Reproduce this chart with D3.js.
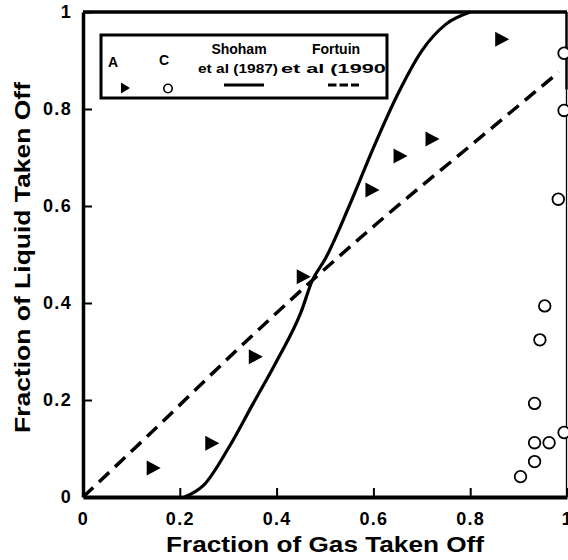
<!DOCTYPE html>
<html><head><meta charset="utf-8">
<script src="https://cdn.jsdelivr.net/npm/d3@7"></script>
<style>
html,body{margin:0;padding:0;background:#fff;}
svg{display:block;}
text{font-family:"Liberation Sans",Arial,Helvetica,sans-serif;font-weight:bold;fill:#000;}
</style></head>
<body>
<script>
// ---- data ----
const seriesA_x = [0.144, 0.265, 0.355, 0.454, 0.596, 0.654, 0.720, 0.864];
const seriesA_y = [0.060, 0.111, 0.289, 0.454, 0.633, 0.703, 0.738, 0.944];
const seriesC_x = [0.994, 0.994, 0.982, 0.954, 0.944, 0.933, 0.933, 0.963, 0.994, 0.933, 0.904];
const seriesC_y = [0.915, 0.797, 0.614, 0.394, 0.324, 0.193, 0.112, 0.112, 0.133, 0.073, 0.042];
const shoham_x = [0.21, 0.25, 0.30, 0.35, 0.40, 0.45, 0.474, 0.50, 0.55, 0.60, 0.65, 0.70, 0.75, 0.80];
const shoham_y = [0.00, 0.025, 0.10, 0.19, 0.28, 0.38, 0.447, 0.49, 0.60, 0.72, 0.83, 0.92, 0.975, 1.00];
const fortuin_x = [0.0, 0.14, 0.32, 0.474, 0.612, 0.80, 0.983];
const fortuin_y = [0.0, 0.132, 0.305, 0.447, 0.568, 0.724, 0.876];
const tickValues = [0, 0.2, 0.4, 0.6, 0.8, 1];
const tickLabels = ["0", "0.2", "0.4", "0.6", "0.8", "1"];
const xTitle = "Fraction of Gas Taken Off";
const yTitle = "Fraction of Liquid Taken Off";

const W = 568, H = 560;
const svg = d3.select("body").append("svg").attr("width", W).attr("height", H);

const x = d3.scaleLinear().domain([0, 1]).range([83, 567]);
const y = d3.scaleLinear().domain([0, 1]).range([497, 12]);

// axes
const xAxis = d3.axisBottom(x).tickValues(tickValues)
  .tickFormat((d, i) => tickLabels[i]).tickSizeInner(-9).tickSizeOuter(0).tickPadding(15);
const gx = svg.append("g").attr("transform", `translate(0,${y(0)})`).call(xAxis);
gx.select(".domain").attr("stroke", "#000").attr("stroke-width", 4);
gx.selectAll(".tick line").attr("stroke", "#000").attr("stroke-width", 2);
gx.selectAll(".tick text").attr("font-size", 18).attr("font-family", null)
  .style("letter-spacing", "1.3px").attr("fill", "#000");

const yAxis = d3.axisLeft(y).tickValues(tickValues)
  .tickFormat((d, i) => tickLabels[i]).tickSizeInner(-9).tickSizeOuter(0).tickPadding(11);
const gy = svg.append("g").attr("transform", `translate(${x(0)},0)`).call(yAxis);
gy.select(".domain").attr("stroke", "#000").attr("stroke-width", 3.5);
gy.selectAll(".tick line").attr("stroke", "#000").attr("stroke-width", 2);
gy.selectAll(".tick text").attr("font-size", 18).attr("font-family", null)
  .style("letter-spacing", "1.3px").attr("fill", "#000");
gy.selectAll(".tick").filter(d => d === 0).select("line").remove();
gx.selectAll(".tick").filter(d => d === 0).select("line").remove();

// top and right frame
svg.append("line").attr("x1", x(0)).attr("x2", x(1)).attr("y1", y(1)).attr("y2", y(1))
  .attr("stroke", "#000").attr("stroke-width", 3.5);
svg.append("line").attr("x1", x(1) - 0.5).attr("x2", x(1) - 0.5).attr("y1", y(1)).attr("y2", y(0.84))
  .attr("stroke", "#000").attr("stroke-width", 2.5);
svg.append("line").attr("x1", x(1) - 0.5).attr("x2", x(1) - 0.5).attr("y1", y(0.84)).attr("y2", y(0))
  .attr("stroke", "#000").attr("stroke-width", 1.3);

// curves
svg.append("path")
  .datum(shoham_x.map((v, i) => [v, shoham_y[i]]))
  .attr("d", d3.line().x(d => x(d[0])).y(d => y(d[1])).curve(d3.curveMonotoneX))
  .attr("fill", "none").attr("stroke", "#000").attr("stroke-width", 3.2);
svg.append("path")
  .datum(fortuin_x.map((v, i) => [v, fortuin_y[i]]))
  .attr("d", d3.line().x(d => x(d[0])).y(d => y(d[1])).curve(d3.curveMonotoneX))
  .attr("fill", "none").attr("stroke", "#000").attr("stroke-width", 3.5)
  .attr("stroke-dasharray", "14,8");

// markers
const tri = "M-6,-7.5L8,0L-6,7.5Z";
svg.append("g").selectAll("path").data(seriesA_x.map((v, i) => [v, seriesA_y[i]]))
  .join("path").attr("d", tri)
  .attr("transform", d => `translate(${x(d[0])},${y(d[1])})`).attr("fill", "#000");
svg.append("g").selectAll("circle").data(seriesC_x.map((v, i) => [v, seriesC_y[i]]))
  .join("circle").attr("cx", d => x(d[0])).attr("cy", d => y(d[1])).attr("r", 5.8)
  .attr("fill", "#fff").attr("stroke", "#000").attr("stroke-width", 1.8);

// legend
const lg = svg.append("g");
lg.append("clipPath").attr("id", "lgclip").append("rect")
  .attr("x", 101).attr("y", 35).attr("width", 286).attr("height", 63);
lg.append("rect").attr("x", 101).attr("y", 35).attr("width", 286).attr("height", 63)
  .attr("fill", "#fff").attr("stroke", "#000").attr("stroke-width", 3);
const lt = lg.append("g").attr("clip-path", "url(#lgclip)");
lt.append("text").attr("x", 113).attr("y", 67).attr("text-anchor", "middle").attr("font-size", 14).attr("font-weight", "normal").text("A");
lt.append("text").attr("x", 164).attr("y", 65).attr("text-anchor", "middle").attr("font-size", 14).attr("font-weight", "normal").text("C");
lt.append("path").attr("d", "M-4,-5.5L5,0L-4,5.5Z").attr("transform", "translate(125,88)").attr("fill", "#000");
lt.append("circle").attr("cx", 168).attr("cy", 88.5).attr("r", 4.2).attr("fill", "#fff").attr("stroke", "#000").attr("stroke-width", 1.6);
lt.append("text").attr("x", 239).attr("y", 54).attr("text-anchor", "middle").attr("font-size", 14).text("Shoham");
lt.append("text").attr("x", 198).attr("y", 73).attr("font-size", 13.5).attr("textLength", 80).attr("lengthAdjust", "spacingAndGlyphs").text("et al (1987)");
lt.append("line").attr("x1", 224).attr("x2", 264).attr("y1", 85).attr("y2", 85).attr("stroke", "#000").attr("stroke-width", 3);
lt.append("text").attr("x", 336).attr("y", 54).attr("text-anchor", "middle").attr("font-size", 14).text("Fortuin");
lt.append("text").attr("x", 281).attr("y", 73).attr("font-size", 13.5).attr("textLength", 112).attr("lengthAdjust", "spacingAndGlyphs").text("et al (1990)");
lt.append("line").attr("x1", 328).attr("x2", 359).attr("y1", 85).attr("y2", 85).attr("stroke", "#000").attr("stroke-width", 3).attr("stroke-dasharray", "8.5,3");

// axis titles
svg.append("text").attr("x", 325).attr("y", 552).attr("text-anchor", "middle")
  .attr("font-size", 22).attr("textLength", 318).attr("lengthAdjust", "spacingAndGlyphs").text(xTitle);
svg.append("text").attr("transform", "translate(30,257.5) rotate(-90)").attr("text-anchor", "middle")
  .attr("font-size", 22).attr("textLength", 351).attr("lengthAdjust", "spacingAndGlyphs").text(yTitle);
</script>
</body></html>
